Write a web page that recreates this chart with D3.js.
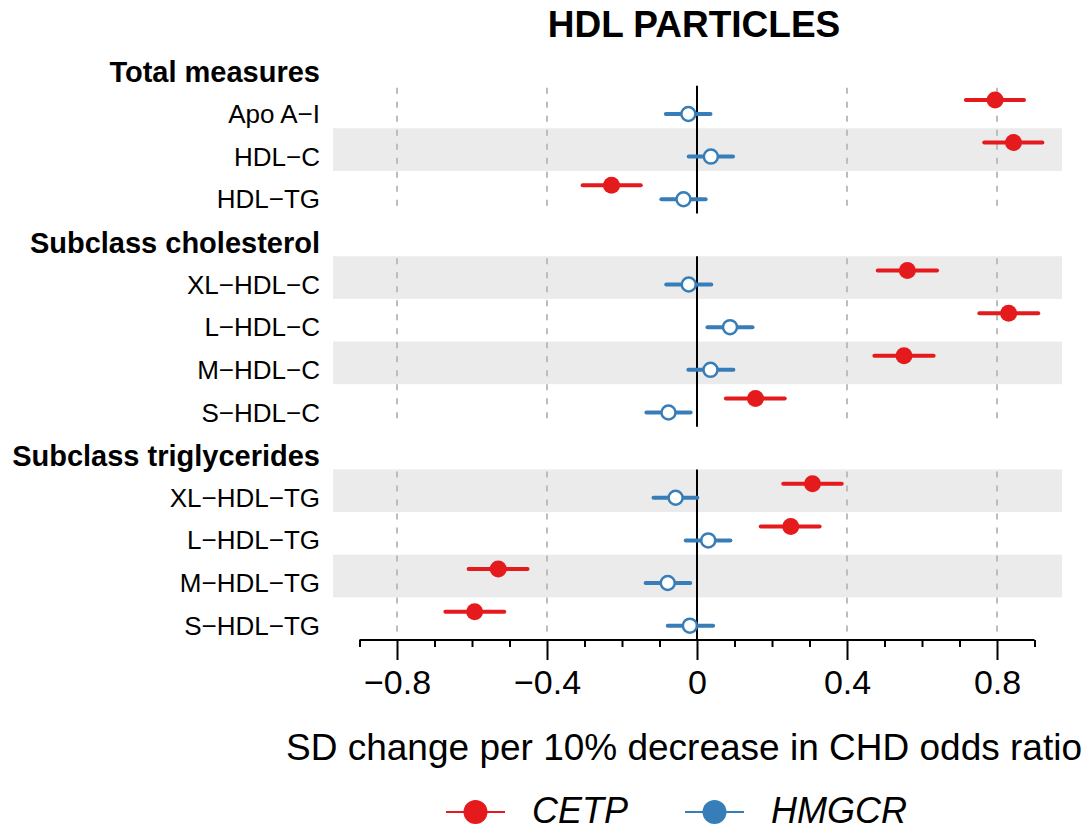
<!DOCTYPE html>
<html lang="en">
<head>
    <meta charset="UTF-8">
    <title>HDL particles</title>
    <script src="https://cdn.jsdelivr.net/npm/d3@7"></script>
    <style>
        body { margin: 0; background: #fff; }
        text { font-family: "Liberation Sans", Arial, Helvetica, sans-serif; }
    </style>
</head>
<body>
    <div id="vis"></div>

    <script>

        // rows of the forest plot, headers included (in drawing order)
        var sections = ["Total measures", "Subclass cholesterol", "Subclass triglycerides"];
        var sectionItems = [
            ["Apo A\u2212I", "HDL\u2212C", "HDL\u2212TG"],
            ["XL\u2212HDL\u2212C", "L\u2212HDL\u2212C", "M\u2212HDL\u2212C", "S\u2212HDL\u2212C"],
            ["XL\u2212HDL\u2212TG", "L\u2212HDL\u2212TG", "M\u2212HDL\u2212TG", "S\u2212HDL\u2212TG"]
        ];

        // estimates and 95% CI, same order as the items above
        var cetpEst = [0.795, 0.844, -0.228, 0.561, 0.831, 0.552, 0.156, 0.308, 0.250, -0.530, -0.593];
        var cetpLo  = [0.717, 0.766, -0.305, 0.482, 0.753, 0.473, 0.077, 0.230, 0.170, -0.609, -0.671];
        var cetpHi  = [0.872, 0.921, -0.150, 0.640, 0.910, 0.631, 0.234, 0.386, 0.327, -0.452, -0.514];

        var hmgcrEst = [-0.023, 0.037, -0.036, -0.022, 0.088, 0.036, -0.076, -0.057, 0.030, -0.078, -0.019];
        var hmgcrLo  = [-0.083, -0.022, -0.095, -0.082, 0.028, -0.023, -0.135, -0.116, -0.030, -0.137, -0.078];
        var hmgcrHi  = [0.036, 0.096, 0.023, 0.038, 0.148, 0.097, -0.017, 0.001, 0.089, -0.018, 0.043];

        var majorTicks = [-0.8, -0.4, 0, 0.4, 0.8];
        var minorTicks = [-0.9, -0.7, -0.6, -0.5, -0.3, -0.2, -0.1, 0.1, 0.2, 0.3, 0.5, 0.6, 0.7, 0.9];
        var gridTicks = [-0.8, -0.4, 0.4, 0.8];

        var series = ["CETP", "HMGCR"];
        var colors = {CETP: "#e41a1c", HMGCR: "#377eb8"};

        var width = 1091;
        var height = 831;

        var svg = d3.select("#vis")
            .append("svg")
              .attr("width", width)
              .attr("height", height);

        // flatten into rows
        var rows = [];
        var k = 0;
        sections.forEach(function(s, si) {
            rows.push({type: "header", label: s, section: si});
            sectionItems[si].forEach(function(lab) {
                rows.push({type: "item", label: lab, section: si, idx: k});
                k++;
            });
        });
        rows.forEach(function(r, i) { r.row = i; });

        var x = d3.scaleLinear()
            .domain([-0.9, 0.9])
            .range([359.5, 1034.5]);

        var y = d3.scaleBand()
            .domain(d3.range(rows.length))
            .range([43, 640]);

        var bw = y.bandwidth();
        function cy(i) { return y(i) + bw / 2; }

        // shaded bands on every other item
        svg.selectAll(".band")
            .data(rows.filter(function(r) { return r.type === "item" && r.idx % 2 === 1; }))
            .enter()
            .append("rect")
              .attr("class", "band")
              .attr("x", 333)
              .attr("width", 1062 - 333)
              .attr("y", function(d) { return y(d.row); })
              .attr("height", bw)
              .attr("fill", "#ebebeb");

        // per section vertical guides
        var spans = sections.map(function(s, si) {
            var its = rows.filter(function(r) { return r.type === "item" && r.section === si; });
            return {top: y(its[0].row), bottom: y(its[its.length - 1].row) + bw};
        });

        spans.forEach(function(sp) {
            svg.selectAll(null)
                .data(gridTicks)
                .enter()
                .append("line")
                  .attr("x1", function(d) { return x(d); })
                  .attr("x2", function(d) { return x(d); })
                  .attr("y1", sp.top + 2)
                  .attr("y2", sp.bottom - 6)
                  .attr("stroke", "#bdbdbd")
                  .attr("stroke-width", 2)
                  .attr("stroke-dasharray", "6,8");

            svg.append("line")
                .attr("x1", x(0))
                .attr("x2", x(0))
                .attr("y1", sp.top)
                .attr("y2", sp.bottom)
                .attr("stroke", "#000")
                .attr("stroke-width", 2);
        });

        // row labels
        svg.selectAll(".lab")
            .data(rows)
            .enter()
            .append("text")
              .attr("class", "lab")
              .attr("x", 320)
              .attr("y", function(d) { return d.type === "header" ? cy(d.row) + 8 : cy(d.row) + 7; })
              .attr("dy", "0.35em")
              .attr("text-anchor", "end")
              .attr("font-size", function(d) { return d.type === "header" ? "29px" : "26px"; })
              .attr("font-weight", function(d) { return d.type === "header" ? "bold" : "normal"; })
              .text(function(d) { return d.label; });

        var items = rows.filter(function(r) { return r.type === "item"; });

        var pts = [];
        items.forEach(function(r) {
            pts.push({s: "CETP", yy: cy(r.row) - 7, est: cetpEst[r.idx], lo: cetpLo[r.idx], hi: cetpHi[r.idx]});
            pts.push({s: "HMGCR", yy: cy(r.row) + 7, est: hmgcrEst[r.idx], lo: hmgcrLo[r.idx], hi: hmgcrHi[r.idx]});
        });

        svg.selectAll(".ci")
            .data(pts)
            .enter()
            .append("line")
              .attr("class", "ci")
              .attr("x1", function(d) { return x(d.lo); })
              .attr("x2", function(d) { return x(d.hi); })
              .attr("y1", function(d) { return d.yy; })
              .attr("y2", function(d) { return d.yy; })
              .attr("stroke", function(d) { return colors[d.s]; })
              .attr("stroke-width", 4)
              .attr("stroke-linecap", "round");

        svg.selectAll(".dot")
            .data(pts)
            .enter()
            .append("circle")
              .attr("class", "dot")
              .attr("cx", function(d) { return x(d.est); })
              .attr("cy", function(d) { return d.yy; })
              .attr("r", function(d) { return d.s === "CETP" ? 8.5 : 7; })
              .attr("fill", function(d) { return d.s === "CETP" ? colors.CETP : "#fff"; })
              .attr("stroke", function(d) { return d.s === "CETP" ? "none" : colors.HMGCR; })
              .attr("stroke-width", 2.5);

        // x axis, major + minor ticks
        var fmt = function(d) { return d === 0 ? "0" : d3.format(".1f")(d).replace("-", "\u2212"); };

        var xAxis = d3.axisBottom(x)
            .tickValues(majorTicks)
            .tickSize(20)
            .tickPadding(10)
            .tickFormat(fmt);

        var gx = svg.append("g")
            .attr("transform", "translate(0,640)")
            .call(xAxis);

        gx.select(".domain")
            .attr("d", "M" + x(-0.9) + ",0H" + x(0.9))
            .attr("stroke-width", 2);
        gx.selectAll(".tick line").attr("stroke-width", 2);
        gx.selectAll(".tick text")
            .attr("font-size", "34px")
            .attr("font-family", "'Liberation Sans', Arial, sans-serif")
            .attr("fill", "#000");

        svg.append("g")
            .attr("transform", "translate(0,640)")
            .call(d3.axisBottom(x).tickValues(minorTicks).tickSize(7).tickFormat(""))
            .call(function(g) {
                g.select(".domain").remove();
                g.selectAll(".tick line").attr("stroke-width", 2);
            });

        // titles
        svg.append("text")
            .attr("x", 694)
            .attr("y", 37)
            .attr("text-anchor", "middle")
            .attr("font-size", "37px")
            .attr("font-weight", "bold")
            .text("HDL PARTICLES");

        svg.append("text")
            .attr("x", 684)
            .attr("y", 760)
            .attr("text-anchor", "middle")
            .attr("font-size", "37px")
            .text("SD change per 10% decrease in CHD odds ratio");

        // legend
        var legX = [446, 685];
        var leg = svg.selectAll(".leg")
            .data(series)
            .enter()
            .append("g")
              .attr("class", "leg")
              .attr("transform", function(d, i) { return "translate(" + legX[i] + ",812)"; });

        leg.append("line")
            .attr("x1", 0)
            .attr("x2", 59)
            .attr("stroke", function(d) { return colors[d]; })
            .attr("stroke-width", 2);

        leg.append("circle")
            .attr("cx", 29.5)
            .attr("r", 12)
            .attr("fill", function(d) { return colors[d]; });

        leg.append("text")
            .attr("x", 86)
            .attr("y", 11)
            .attr("font-size", "36px")
            .attr("font-style", "italic")
            .text(function(d) { return d; });

    </script>
</body>
</html>
